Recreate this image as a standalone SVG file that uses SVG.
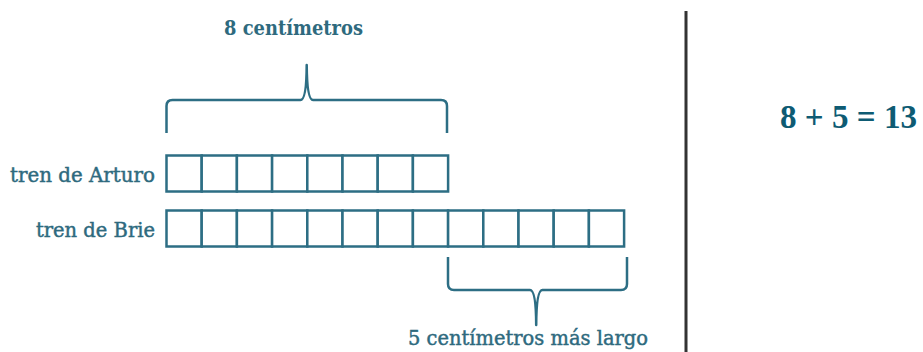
<svg xmlns="http://www.w3.org/2000/svg" width="923" height="352" viewBox="0 0 923 352">
<style>
.lbl{font-family:"DejaVu Serif","Liberation Serif",serif;fill:#2e6a7e;font-size:19.5px;stroke:#2e6a7e;stroke-width:0.45}
.b{font-weight:bold;stroke:none}
.box{fill:#ffffff;stroke:#2d6e84;stroke-width:2.5}
.brace{fill:none;stroke:#2d6e84;stroke-width:2.5;stroke-linejoin:round}
.eq{font-family:"Liberation Serif","Times New Roman",serif;font-weight:bold;font-size:33px;fill:#0e5b73}
</style>
<rect width="923" height="352" fill="#ffffff"/>
<g id="label-top"><text class="lbl b" x="293.5" y="35" text-anchor="middle" font-size="17.5" textLength="139" lengthAdjust="spacingAndGlyphs">8 centímetros</text></g>
<g id="label-arturo"><text class="lbl" x="155" y="182" text-anchor="end" textLength="145" lengthAdjust="spacingAndGlyphs">tren de Arturo</text></g>
<g id="label-brie"><text class="lbl" x="155" y="237" text-anchor="end">tren de Brie</text></g>
<g id="label-bottom"><text class="lbl" x="528" y="345" text-anchor="middle" textLength="240" lengthAdjust="spacingAndGlyphs">5 centímetros más largo</text></g>
<g id="train-arturo">
<rect class="box" x="166.5" y="155.5" width="35.2" height="36"/>
<rect class="box" x="201.7" y="155.5" width="35.2" height="36"/>
<rect class="box" x="236.9" y="155.5" width="35.2" height="36"/>
<rect class="box" x="272.1" y="155.5" width="35.2" height="36"/>
<rect class="box" x="307.3" y="155.5" width="35.2" height="36"/>
<rect class="box" x="342.5" y="155.5" width="35.2" height="36"/>
<rect class="box" x="377.7" y="155.5" width="35.2" height="36"/>
<rect class="box" x="412.9" y="155.5" width="35.2" height="36"/>
</g>
<g id="train-brie">
<rect class="box" x="166.5" y="210.5" width="35.2" height="36"/>
<rect class="box" x="201.7" y="210.5" width="35.2" height="36"/>
<rect class="box" x="236.9" y="210.5" width="35.2" height="36"/>
<rect class="box" x="272.1" y="210.5" width="35.2" height="36"/>
<rect class="box" x="307.3" y="210.5" width="35.2" height="36"/>
<rect class="box" x="342.5" y="210.5" width="35.2" height="36"/>
<rect class="box" x="377.7" y="210.5" width="35.2" height="36"/>
<rect class="box" x="412.9" y="210.5" width="35.2" height="36"/>
<rect class="box" x="448.1" y="210.5" width="35.2" height="36"/>
<rect class="box" x="483.3" y="210.5" width="35.2" height="36"/>
<rect class="box" x="518.5" y="210.5" width="35.2" height="36"/>
<rect class="box" x="553.7" y="210.5" width="35.2" height="36"/>
<rect class="box" x="588.9" y="210.5" width="35.2" height="36"/>
</g>
<g id="connectors">
<path class="brace" d="M166.5,133 L166.5,106 Q166.5,100 172.5,100 L300.5,100 Q306.5,100 306.7,65 Q307,100 313,100 L441,100 Q447,100 447,106 L447,133"/>
<path class="brace" d="M448,257 L448,284 Q448,290 454,290 L530,290 Q536,290 536.2,325 Q536.4,290 542.4,290 L621,290 Q627,290 627,284 L627,257"/>
</g>
<g id="divider"><line x1="686" y1="11" x2="686" y2="352" stroke="#333333" stroke-width="3"/></g>
<g id="equation"><text class="eq" x="780" y="128" textLength="137" lengthAdjust="spacingAndGlyphs">8 + 5 = 13</text></g>
</svg>
